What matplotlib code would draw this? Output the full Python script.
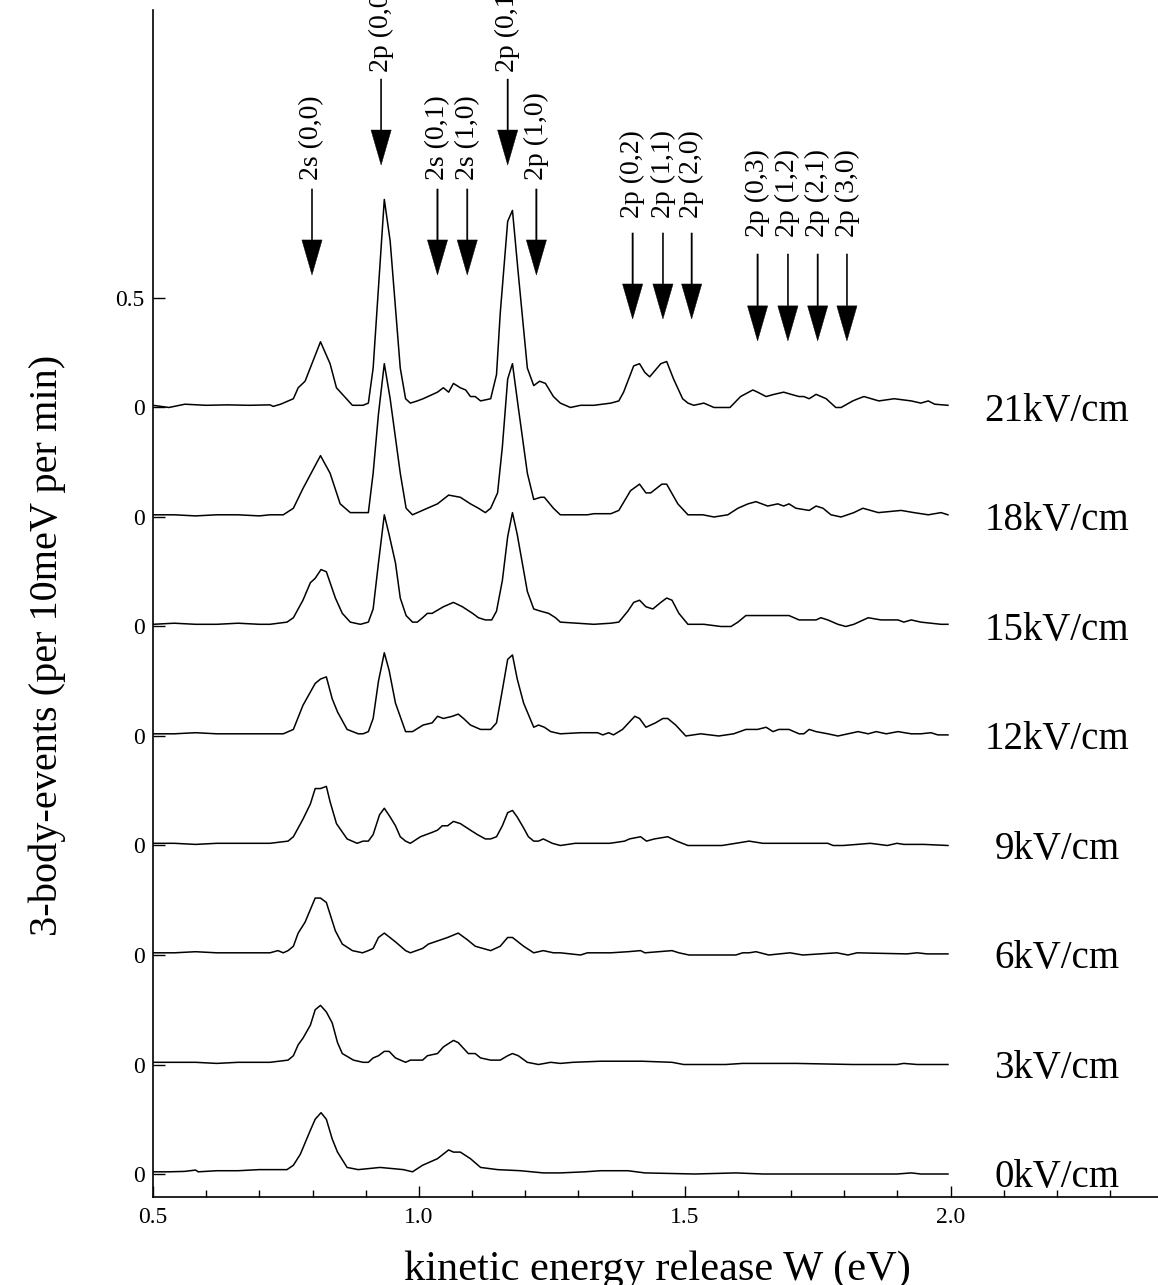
import matplotlib.pyplot as plt
from matplotlib.ticker import MultipleLocator

plt.rcParams['font.family'] = ['Liberation Serif', 'DejaVu Serif']

# field strengths, bottom trace first; each trace is shifted up by 0.5
fields = [0, 3, 6, 9, 12, 15, 18, 21]
STEP = 0.5

# (W in eV, events per 10 meV per min)
spec_0 = [(0.50, 0.01), (0.53, 0.01), (0.56, 0.012), (0.58, 0.018), (0.585, 0.01), (0.62, 0.015),
          (0.66, 0.015), (0.70, 0.02), (0.72, 0.02), (0.752, 0.02), (0.764, 0.04), (0.777, 0.09),
          (0.796, 0.20), (0.805, 0.25), (0.816, 0.28), (0.826, 0.25), (0.837, 0.16), (0.847, 0.10),
          (0.865, 0.03), (0.886, 0.02), (0.927, 0.03), (0.971, 0.02), (0.988, 0.01), (1.007, 0.04),
          (1.035, 0.07), (1.056, 0.11), (1.065, 0.10), (1.078, 0.10), (1.097, 0.07), (1.116, 0.03),
          (1.148, 0.02), (1.191, 0.015), (1.234, 0.005), (1.266, 0.005), (1.312, 0.01), (1.342, 0.015),
          (1.393, 0.015), (1.425, 0.005), (1.519, 0.00), (1.596, 0.005), (1.647, 0.00), (1.773, 0.00),
          (1.899, 0.00), (1.926, 0.005), (1.944, 0.00), (1.995, 0.00)]

spec_3 = [(0.50, 0.01), (0.54, 0.01), (0.58, 0.01), (0.62, 0.005), (0.66, 0.01), (0.70, 0.01),
          (0.72, 0.01), (0.754, 0.02), (0.764, 0.04), (0.773, 0.09), (0.782, 0.12), (0.796, 0.18),
          (0.805, 0.25), (0.815, 0.27), (0.826, 0.24), (0.837, 0.19), (0.847, 0.10), (0.856, 0.05),
          (0.877, 0.02), (0.895, 0.01), (0.905, 0.01), (0.914, 0.03), (0.924, 0.04), (0.935, 0.06),
          (0.944, 0.06), (0.956, 0.03), (0.975, 0.01), (0.984, 0.02), (1.007, 0.02), (1.016, 0.04),
          (1.035, 0.05), (1.046, 0.08), (1.065, 0.11), (1.074, 0.10), (1.093, 0.05), (1.106, 0.05),
          (1.116, 0.03), (1.135, 0.02), (1.153, 0.02), (1.167, 0.04), (1.176, 0.05), (1.187, 0.04),
          (1.204, 0.01), (1.225, 0.00), (1.248, 0.01), (1.266, 0.005), (1.290, 0.01), (1.342, 0.015),
          (1.419, 0.015), (1.476, 0.01), (1.498, 0.00), (1.577, 0.00), (1.609, 0.005), (1.666, 0.005),
          (1.709, 0.005), (1.816, 0.00), (1.899, 0.00), (1.912, 0.005), (1.937, 0.00), (1.995, 0.00)]

spec_6 = [(0.50, 0.01), (0.54, 0.01), (0.58, 0.015), (0.62, 0.01), (0.66, 0.01), (0.70, 0.01),
          (0.72, 0.01), (0.735, 0.02), (0.745, 0.01), (0.754, 0.02), (0.764, 0.04), (0.773, 0.10),
          (0.786, 0.15), (0.805, 0.26), (0.815, 0.26), (0.826, 0.24), (0.843, 0.11), (0.856, 0.05),
          (0.875, 0.02), (0.894, 0.01), (0.905, 0.02), (0.914, 0.03), (0.924, 0.08), (0.935, 0.10),
          (0.956, 0.06), (0.975, 0.02), (0.984, 0.01), (1.007, 0.03), (1.018, 0.05), (1.054, 0.08),
          (1.074, 0.10), (1.091, 0.07), (1.106, 0.04), (1.135, 0.02), (1.153, 0.04), (1.167, 0.08),
          (1.176, 0.08), (1.197, 0.04), (1.216, 0.01), (1.234, 0.02), (1.253, 0.01), (1.266, 0.01),
          (1.304, 0.00), (1.317, 0.01), (1.361, 0.01), (1.393, 0.015), (1.417, 0.02), (1.425, 0.01),
          (1.476, 0.02), (1.489, 0.01), (1.508, 0.00), (1.596, 0.00), (1.609, 0.01), (1.621, 0.01),
          (1.634, 0.015), (1.658, 0.00), (1.698, 0.01), (1.722, 0.00), (1.786, 0.01), (1.807, 0.00),
          (1.824, 0.01), (1.918, 0.005), (1.937, 0.01), (1.956, 0.005), (1.995, 0.005)]

spec_9 = [(0.50, 0.01), (0.54, 0.01), (0.58, 0.005), (0.62, 0.01), (0.66, 0.01), (0.70, 0.01),
          (0.72, 0.01), (0.754, 0.02), (0.764, 0.04), (0.782, 0.12), (0.796, 0.19), (0.805, 0.26),
          (0.815, 0.26), (0.826, 0.27), (0.833, 0.20), (0.845, 0.10), (0.865, 0.03), (0.884, 0.01),
          (0.895, 0.02), (0.905, 0.02), (0.914, 0.05), (0.926, 0.14), (0.935, 0.17), (0.946, 0.13),
          (0.956, 0.09), (0.965, 0.04), (0.975, 0.02), (0.984, 0.01), (1.003, 0.04), (1.025, 0.06),
          (1.035, 0.07), (1.044, 0.09), (1.054, 0.09), (1.065, 0.11), (1.078, 0.10), (1.097, 0.07),
          (1.110, 0.05), (1.125, 0.03), (1.135, 0.03), (1.146, 0.04), (1.157, 0.09), (1.167, 0.15),
          (1.176, 0.16), (1.185, 0.13), (1.197, 0.08), (1.206, 0.04), (1.216, 0.02), (1.225, 0.02),
          (1.234, 0.03), (1.251, 0.01), (1.266, 0.00), (1.294, 0.01), (1.331, 0.01), (1.359, 0.01),
          (1.387, 0.02), (1.396, 0.03), (1.417, 0.04), (1.428, 0.02), (1.443, 0.03), (1.468, 0.04),
          (1.485, 0.02), (1.506, 0.00), (1.532, 0.00), (1.570, 0.00), (1.596, 0.01), (1.621, 0.02),
          (1.647, 0.01), (1.677, 0.01), (1.709, 0.01), (1.769, 0.01), (1.779, 0.00), (1.798, 0.00),
          (1.824, 0.005), (1.849, 0.01), (1.881, 0.00), (1.899, 0.01), (1.912, 0.005), (1.950, 0.005),
          (1.995, 0.00)]

spec_12 = [(0.50, 0.01), (0.54, 0.01), (0.58, 0.015), (0.62, 0.01), (0.66, 0.01), (0.70, 0.01),
           (0.72, 0.01), (0.745, 0.01), (0.764, 0.03), (0.782, 0.14), (0.805, 0.24), (0.815, 0.26),
           (0.826, 0.27), (0.837, 0.17), (0.847, 0.11), (0.865, 0.03), (0.886, 0.01), (0.895, 0.01),
           (0.905, 0.02), (0.914, 0.08), (0.924, 0.25), (0.935, 0.38), (0.944, 0.30), (0.956, 0.15),
           (0.975, 0.02), (0.988, 0.02), (1.008, 0.05), (1.025, 0.06), (1.035, 0.09), (1.046, 0.08),
           (1.063, 0.09), (1.074, 0.10), (1.084, 0.08), (1.097, 0.05), (1.116, 0.03), (1.135, 0.03),
           (1.146, 0.06), (1.157, 0.21), (1.167, 0.35), (1.176, 0.37), (1.185, 0.26), (1.197, 0.15),
           (1.216, 0.04), (1.225, 0.05), (1.236, 0.04), (1.248, 0.02), (1.266, 0.01), (1.304, 0.015),
           (1.336, 0.015), (1.346, 0.005), (1.357, 0.015), (1.366, 0.005), (1.383, 0.03), (1.406, 0.09),
           (1.415, 0.08), (1.427, 0.04), (1.445, 0.06), (1.459, 0.08), (1.468, 0.08), (1.483, 0.05),
           (1.502, 0.00), (1.530, 0.01), (1.564, 0.00), (1.592, 0.01), (1.615, 0.03), (1.637, 0.03),
           (1.653, 0.04), (1.666, 0.02), (1.677, 0.03), (1.696, 0.03), (1.715, 0.01), (1.724, 0.01),
           (1.734, 0.03), (1.747, 0.02), (1.769, 0.01), (1.788, 0.00), (1.807, 0.01), (1.826, 0.02),
           (1.845, 0.01), (1.860, 0.02), (1.879, 0.01), (1.901, 0.02), (1.926, 0.01), (1.944, 0.01),
           (1.963, 0.015), (1.976, 0.005), (1.995, 0.005)]

spec_15 = [(0.50, 0.01), (0.54, 0.015), (0.58, 0.01), (0.62, 0.01), (0.66, 0.015), (0.70, 0.01),
           (0.72, 0.01), (0.752, 0.02), (0.764, 0.04), (0.782, 0.12), (0.796, 0.20), (0.805, 0.22),
           (0.816, 0.26), (0.826, 0.25), (0.843, 0.13), (0.856, 0.06), (0.871, 0.02), (0.890, 0.01),
           (0.905, 0.02), (0.914, 0.08), (0.924, 0.29), (0.935, 0.51), (0.944, 0.42), (0.956, 0.29),
           (0.965, 0.13), (0.976, 0.05), (0.988, 0.02), (0.997, 0.02), (1.007, 0.04), (1.016, 0.06),
           (1.025, 0.06), (1.046, 0.09), (1.065, 0.11), (1.082, 0.09), (1.101, 0.06), (1.112, 0.04),
           (1.125, 0.03), (1.137, 0.03), (1.146, 0.07), (1.157, 0.21), (1.167, 0.41), (1.176, 0.52),
           (1.185, 0.42), (1.204, 0.16), (1.216, 0.08), (1.229, 0.07), (1.244, 0.06), (1.257, 0.04),
           (1.266, 0.02), (1.329, 0.01), (1.361, 0.015), (1.376, 0.02), (1.393, 0.07), (1.404, 0.11),
           (1.415, 0.12), (1.427, 0.09), (1.440, 0.08), (1.455, 0.11), (1.466, 0.13), (1.476, 0.12),
           (1.489, 0.06), (1.506, 0.01), (1.536, 0.01), (1.568, 0.00), (1.587, 0.00), (1.600, 0.02),
           (1.615, 0.05), (1.637, 0.05), (1.649, 0.05), (1.675, 0.05), (1.696, 0.05), (1.715, 0.03),
           (1.747, 0.03), (1.756, 0.04), (1.769, 0.03), (1.788, 0.01), (1.803, 0.00), (1.818, 0.01),
           (1.845, 0.04), (1.869, 0.03), (1.901, 0.03), (1.912, 0.02), (1.926, 0.03), (1.944, 0.02),
           (1.982, 0.01), (1.995, 0.01)]

spec_18 = [(0.50, 0.01), (0.54, 0.01), (0.58, 0.005), (0.62, 0.01), (0.66, 0.01), (0.70, 0.005),
           (0.72, 0.01), (0.745, 0.01), (0.764, 0.04), (0.782, 0.13), (0.815, 0.28), (0.833, 0.20),
           (0.852, 0.06), (0.871, 0.02), (0.905, 0.02), (0.914, 0.20), (0.924, 0.47), (0.935, 0.70),
           (0.946, 0.54), (0.965, 0.20), (0.976, 0.04), (0.988, 0.01), (1.016, 0.04), (1.035, 0.06),
           (1.056, 0.10), (1.078, 0.09), (1.097, 0.06), (1.112, 0.04), (1.125, 0.02), (1.135, 0.04),
           (1.148, 0.11), (1.157, 0.32), (1.167, 0.63), (1.176, 0.70), (1.187, 0.50), (1.204, 0.20),
           (1.216, 0.08), (1.229, 0.09), (1.236, 0.09), (1.253, 0.04), (1.266, 0.01), (1.317, 0.01),
           (1.329, 0.015), (1.361, 0.015), (1.376, 0.03), (1.398, 0.12), (1.415, 0.15), (1.427, 0.11),
           (1.436, 0.11), (1.457, 0.15), (1.466, 0.15), (1.487, 0.06), (1.506, 0.01), (1.534, 0.01),
           (1.555, 0.00), (1.581, 0.01), (1.600, 0.04), (1.619, 0.06), (1.634, 0.07), (1.656, 0.05),
           (1.675, 0.06), (1.686, 0.05), (1.696, 0.06), (1.709, 0.04), (1.734, 0.03), (1.747, 0.05),
           (1.760, 0.04), (1.775, 0.01), (1.794, 0.00), (1.818, 0.02), (1.835, 0.04), (1.864, 0.02),
           (1.907, 0.03), (1.931, 0.02), (1.958, 0.01), (1.982, 0.02), (1.995, 0.01)]

spec_21 = [(0.50, 0.01), (0.53, 0.00), (0.56, 0.015), (0.60, 0.01), (0.64, 0.012), (0.68, 0.01),
           (0.72, 0.012), (0.726, 0.005), (0.74, 0.015), (0.764, 0.04), (0.773, 0.09), (0.786, 0.12),
           (0.815, 0.30), (0.833, 0.20), (0.845, 0.09), (0.875, 0.01), (0.895, 0.01), (0.905, 0.02),
           (0.914, 0.18), (0.935, 0.95), (0.946, 0.76), (0.965, 0.18), (0.975, 0.04), (0.984, 0.02),
           (0.997, 0.03), (1.008, 0.04), (1.035, 0.07), (1.046, 0.09), (1.056, 0.07), (1.065, 0.11),
           (1.078, 0.09), (1.088, 0.08), (1.097, 0.05), (1.106, 0.05), (1.116, 0.03), (1.135, 0.04),
           (1.146, 0.15), (1.153, 0.43), (1.167, 0.85), (1.176, 0.90), (1.187, 0.61), (1.204, 0.18),
           (1.216, 0.10), (1.227, 0.12), (1.238, 0.11), (1.253, 0.05), (1.266, 0.02), (1.285, 0.00),
           (1.304, 0.01), (1.329, 0.01), (1.361, 0.02), (1.376, 0.03), (1.385, 0.07), (1.404, 0.19),
           (1.415, 0.20), (1.425, 0.16), (1.434, 0.14), (1.455, 0.20), (1.466, 0.21), (1.479, 0.13),
           (1.496, 0.04), (1.506, 0.02), (1.517, 0.01), (1.536, 0.02), (1.555, 0.00), (1.585, 0.00),
           (1.605, 0.05), (1.628, 0.08), (1.637, 0.07), (1.653, 0.05), (1.668, 0.06), (1.686, 0.07),
           (1.700, 0.06), (1.715, 0.05), (1.724, 0.05), (1.734, 0.04), (1.747, 0.06), (1.766, 0.04),
           (1.784, 0.00), (1.794, 0.00), (1.816, 0.03), (1.826, 0.04), (1.837, 0.05), (1.865, 0.03),
           (1.894, 0.04), (1.926, 0.03), (1.944, 0.02), (1.958, 0.03), (1.970, 0.015), (1.995, 0.01)]

spectra = [spec_0, spec_3, spec_6, spec_9, spec_12, spec_15, spec_18, spec_21]

# peak assignments: label, W position (eV), arrow tail / tip / label base (in y units)
peak_labels = ['2s (0,0)', '2p (0,0)', '2s (0,1)', '2s (1,0)', '2p (0,1)', '2p (1,0)',
               '2p (0,2)', '2p (1,1)', '2p (2,0)',
               '2p (0,3)', '2p (1,2)', '2p (2,1)', '2p (3,0)']
peak_pos = [0.799, 0.929, 1.035, 1.091, 1.167, 1.221,
            1.402, 1.459, 1.513,
            1.637, 1.694, 1.750, 1.805]
peak_row = [0, 1, 0, 0, 1, 0, 2, 2, 2, 3, 3, 3, 3]
row_tail = [4.498, 5.000, 4.297, 4.201]
row_tip = [4.105, 4.607, 3.904, 3.804]
row_text = [4.539, 5.032, 4.365, 4.279]

W, H = 1158, 1285
fig = plt.figure(figsize=(W / 100, H / 100), dpi=100)
ax = fig.add_axes([153 / W, 1 - 1197 / H, 1 - 153 / W, (1197 - 10) / H])

for i, spec in enumerate(spectra):
    xs = [p[0] for p in spec]
    ys = [p[1] + i * STEP for p in spec]
    ax.plot(xs, ys, color='black', lw=1.1)
    ax.text(2.2, i * STEP - 0.06, f'{fields[i]}kV/cm', ha='center', va='baseline', fontsize=28)

for lab, x, r in zip(peak_labels, peak_pos, peak_row):
    ax.arrow(x, row_tail[r], 0, row_tip[r] - row_tail[r], width=0.0025,
             head_width=0.038, head_length=0.16, length_includes_head=True,
             fc='black', ec='black', lw=0.3)
    ax.text(x, row_text[r], lab, rotation=90, ha='center', va='bottom', fontsize=20,
            clip_on=False)

ax.set_xlim(0.5, 2.39)
ax.set_ylim(-0.105, 5.315)

yt = [i * STEP for i in range(len(fields))] + [len(fields) * STEP]
ax.set_yticks(yt)
ax.set_yticklabels(['0'] * len(fields) + ['0.5'])
ax.set_xticks([0.5, 1.0, 1.5, 2.0])
ax.set_xticklabels(['0.5', '1.0', '1.5', '2.0'])
ax.xaxis.set_minor_locator(MultipleLocator(0.1))

ax.tick_params(axis='both', which='major', direction='in', labelsize=17, width=1)
ax.tick_params(axis='x', which='major', length=8, pad=7)
ax.tick_params(axis='x', which='minor', direction='in', length=5, width=1)
ax.tick_params(axis='y', which='major', length=8.5, pad=6)

for s in ['top', 'right']:
    ax.spines[s].set_visible(False)
for s in ['left', 'bottom']:
    ax.spines[s].set_linewidth(1.2)

fig.text(47 / W, 1 - 645 / H, '3-body-events (per 10meV per min)', rotation=90,
         ha='center', va='center', fontsize=29)
fig.text(657 / W, 1 - 1280 / H, 'kinetic energy release W (eV)', ha='center', va='baseline',
         fontsize=30.5)

fig.savefig('out.png', dpi=100)
